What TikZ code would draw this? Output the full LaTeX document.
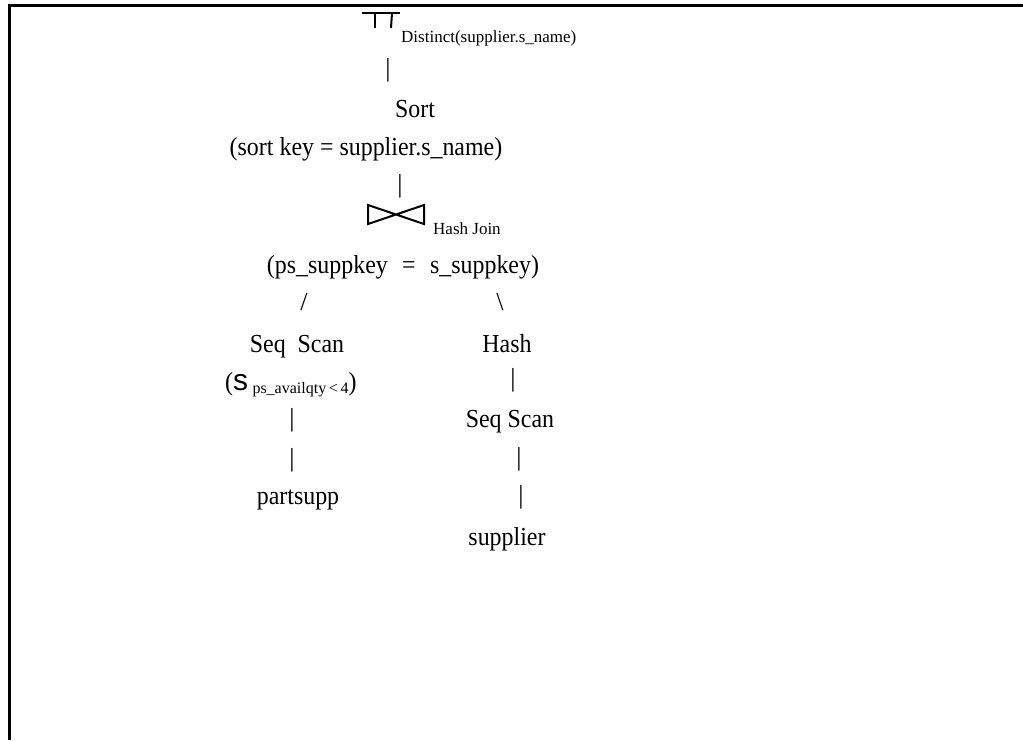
\documentclass[tikz,border=0pt]{standalone}
\usepackage{graphicx}
\usepackage{fontspec}
\setmainfont{Liberation Serif}
\newfontfamily\sansf{Liberation Sans}
\newcommand{\hsq}[1]{\scalebox{0.92}[1]{#1}}
\begin{document}
\begin{tikzpicture}[x=1pt,y=-1pt,
  main/.style={inner sep=0pt, font=\fontsize{26}{31}\selectfont, anchor=base},
  small/.style={inner sep=0pt, font=\fontsize{17}{20}\selectfont, anchor=base west},
  bar/.style={inner sep=0pt, font=\fontsize{26}{30}\selectfont, anchor=center},
  frame/.style={line width=3pt},
  sym/.style={line width=2pt}]
\useasboundingbox (0,0) rectangle (1023,740);
\draw[frame] (1023,5) -- (9,5) -- (9,740);
% projection symbol
\coordinate (pa) at (362,13);
\coordinate (pb) at (400,13);
\draw[sym] (pa) -- (pb);
\draw[sym] (375,13) -- (375,28);
\draw[sym] (392,13) -- (391,28);
\node[small] (distinct) at (401,42) {Distinct(supplier.s\_name)};
\node[bar] (b1) at (388,70) {|};
\node[main] (sort) at (415,117) {\hsq{Sort}};
\node[main] (sortkey) at (366,155) {\hsq{(sort key = supplier.s\_name)}};
\node[bar] (b2) at (400,186) {|};
% join symbol
\draw[sym, line join=miter] (368,205) -- (368,224) -- (424,205) -- (424,224) -- cycle;
\node[small] (hj) at (433,234) {Hash Join};
\node[main] (cond) at (403,273) {\hsq{(ps\_suppkey\hspace{0.6em}=\hspace{0.6em}s\_suppkey)}};
\node[bar] (sl) at (304,302) {/};
\node[bar] (bs) at (500,302) {\textbackslash};
\node[main] (ssl) at (297,352) {\hsq{Seq\hspace{0.5em}Scan}};
\node[main] (hash) at (507,352) {\hsq{Hash}};
\node[inner sep=0pt, anchor=base west, font=\fontsize{26}{30}\selectfont] (sel) at (225,390)
  {\hsq{(}{\sansf\fontsize{30}{30}\selectfont s}\,\raisebox{-3pt}{\fontsize{16}{19}\selectfont ps\_availqty\,<\,4}\hsq{)}};
\node[bar] (bl1) at (292,420) {|};
\node[bar] (bl2) at (292,460) {|};
\node[main] (partsupp) at (298,504) {\hsq{partsupp}};
\node[bar] (br1) at (513,380) {|};
\node[main] (ssr) at (510,427) {\hsq{Seq Scan}};
\node[bar] (br2) at (519,459) {|};
\node[bar] (br3) at (521,497) {|};
\node[main] (supplier) at (507,545) {\hsq{supplier}};
\end{tikzpicture}
\end{document}
